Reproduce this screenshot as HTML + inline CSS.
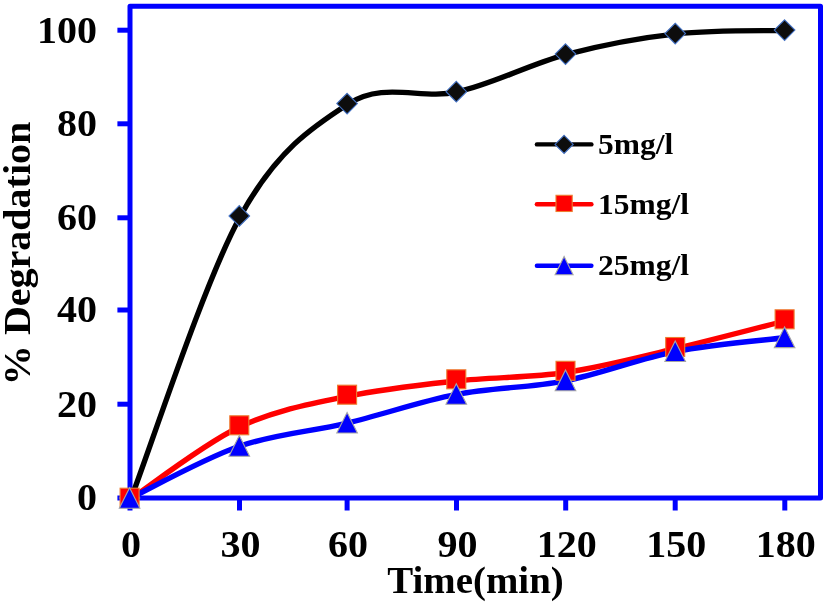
<!DOCTYPE html>
<html><head><meta charset="utf-8"><style>
html,body{margin:0;padding:0;background:#fff;width:826px;height:606px;overflow:hidden}
svg{display:block;will-change:transform}
.t{font-family:"Liberation Serif",serif;font-weight:bold;font-size:38.5px;fill:#000}
.l{font-family:"Liberation Serif",serif;font-weight:bold;font-size:30px;fill:#000}
</style></head><body>
<svg width="826" height="606" viewBox="0 0 826 606">
<rect x="130" y="6.3" width="690.5" height="491.7" fill="none" stroke="#0000ff" stroke-width="5.0" stroke-linejoin="round"/>
<line x1="117.4" y1="30.2" x2="130" y2="30.2" stroke="#0000ff" stroke-width="5.0"/>
<text transform="translate(97,42.5) scale(1.04,1)" text-anchor="end" class="t">100</text>
<line x1="117.4" y1="123.8" x2="130" y2="123.8" stroke="#0000ff" stroke-width="5.0"/>
<text transform="translate(97,136.1) scale(1.04,1)" text-anchor="end" class="t">80</text>
<line x1="117.4" y1="217.8" x2="130" y2="217.8" stroke="#0000ff" stroke-width="5.0"/>
<text transform="translate(97,230.10000000000002) scale(1.04,1)" text-anchor="end" class="t">60</text>
<line x1="117.4" y1="310" x2="130" y2="310" stroke="#0000ff" stroke-width="5.0"/>
<text transform="translate(97,322.3) scale(1.04,1)" text-anchor="end" class="t">40</text>
<line x1="117.4" y1="404.2" x2="130" y2="404.2" stroke="#0000ff" stroke-width="5.0"/>
<text transform="translate(97,416.5) scale(1.04,1)" text-anchor="end" class="t">20</text>
<line x1="117.4" y1="498" x2="130" y2="498" stroke="#0000ff" stroke-width="5.0"/>
<text transform="translate(97,510.3) scale(1.04,1)" text-anchor="end" class="t">0</text>
<line x1="130" y1="498" x2="130" y2="510.5" stroke="#0000ff" stroke-width="5.0"/>
<text transform="translate(131,556.6) scale(1.04,1)" text-anchor="middle" class="t">0</text>
<line x1="239.5" y1="498" x2="239.5" y2="510.5" stroke="#0000ff" stroke-width="5.0"/>
<text transform="translate(240.5,556.6) scale(1.04,1)" text-anchor="middle" class="t">30</text>
<line x1="347.1" y1="498" x2="347.1" y2="510.5" stroke="#0000ff" stroke-width="5.0"/>
<text transform="translate(348.1,556.6) scale(1.04,1)" text-anchor="middle" class="t">60</text>
<line x1="456.5" y1="498" x2="456.5" y2="510.5" stroke="#0000ff" stroke-width="5.0"/>
<text transform="translate(457.5,556.6) scale(1.04,1)" text-anchor="middle" class="t">90</text>
<line x1="565.7" y1="498" x2="565.7" y2="510.5" stroke="#0000ff" stroke-width="5.0"/>
<text transform="translate(566.7,556.6) scale(1.04,1)" text-anchor="middle" class="t">120</text>
<line x1="675.2" y1="498" x2="675.2" y2="510.5" stroke="#0000ff" stroke-width="5.0"/>
<text transform="translate(676.2,556.6) scale(1.04,1)" text-anchor="middle" class="t">150</text>
<line x1="784.8" y1="498" x2="784.8" y2="510.5" stroke="#0000ff" stroke-width="5.0"/>
<text transform="translate(785.8,556.6) scale(1.04,1)" text-anchor="middle" class="t">180</text>
<path d="M131.10,498.30 C149.32,451.28 204.22,281.93 240.40,216.20 C276.58,150.47 312.03,127.11 348.20,103.90 C384.37,80.69 421.00,100.20 457.40,91.95 C493.80,83.70 530.12,64.08 566.60,54.40 C603.08,44.72 639.78,37.85 676.30,33.85 C712.82,29.85 767.47,30.98 785.70,30.40" fill="none" stroke="#000" stroke-width="5.4"/>
<path d="M130.00,499.40 C148.22,487.33 203.12,444.17 239.30,427.00 C275.48,409.83 310.93,404.07 347.10,396.40 C383.27,388.73 419.90,384.98 456.30,381.00 C492.70,377.02 529.02,377.88 565.50,372.50 C601.98,367.12 638.68,357.28 675.20,348.70 C711.72,340.12 766.37,325.62 784.60,321.00" fill="none" stroke="#ff0000" stroke-width="5.4"/>
<path d="M130.00,498.40 C148.22,489.72 203.12,458.85 239.30,446.30 C275.48,433.75 310.93,431.75 347.10,423.10 C383.27,414.45 419.90,401.45 456.30,394.40 C492.70,387.35 529.02,387.93 565.50,380.80 C601.98,373.67 638.68,358.77 675.20,351.60 C711.72,344.42 766.37,340.06 784.60,337.75" fill="none" stroke="#0000ff" stroke-width="5.4"/>
<path d="M129.60,487.70 L139.90,498.00 L129.60,508.30 L119.30,498.00 Z" fill="#0d0d0d" stroke="#4472c4" stroke-width="1.1"/>
<path d="M239.30,205.60 L249.60,215.90 L239.30,226.20 L229.00,215.90 Z" fill="#0d0d0d" stroke="#4472c4" stroke-width="1.1"/>
<path d="M347.10,93.30 L357.40,103.60 L347.10,113.90 L336.80,103.60 Z" fill="#0d0d0d" stroke="#4472c4" stroke-width="1.1"/>
<path d="M456.30,81.35 L466.60,91.65 L456.30,101.95 L446.00,91.65 Z" fill="#0d0d0d" stroke="#4472c4" stroke-width="1.1"/>
<path d="M565.50,43.80 L575.80,54.10 L565.50,64.40 L555.20,54.10 Z" fill="#0d0d0d" stroke="#4472c4" stroke-width="1.1"/>
<path d="M675.20,23.25 L685.50,33.55 L675.20,43.85 L664.90,33.55 Z" fill="#0d0d0d" stroke="#4472c4" stroke-width="1.1"/>
<path d="M784.60,19.80 L794.90,30.10 L784.60,40.40 L774.30,30.10 Z" fill="#0d0d0d" stroke="#4472c4" stroke-width="1.1"/>
<rect x="120.10" y="488.20" width="19.00" height="19.00" fill="#ff0000" stroke="#ed7d31" stroke-width="1.1"/>
<rect x="229.80" y="415.80" width="19.00" height="19.00" fill="#ff0000" stroke="#ed7d31" stroke-width="1.1"/>
<rect x="337.60" y="385.20" width="19.00" height="19.00" fill="#ff0000" stroke="#ed7d31" stroke-width="1.1"/>
<rect x="446.80" y="369.80" width="19.00" height="19.00" fill="#ff0000" stroke="#ed7d31" stroke-width="1.1"/>
<rect x="556.00" y="361.30" width="19.00" height="19.00" fill="#ff0000" stroke="#ed7d31" stroke-width="1.1"/>
<rect x="665.70" y="337.50" width="19.00" height="19.00" fill="#ff0000" stroke="#ed7d31" stroke-width="1.1"/>
<rect x="775.10" y="309.80" width="19.00" height="19.00" fill="#ff0000" stroke="#ed7d31" stroke-width="1.1"/>
<path d="M129.60,487.70 L139.90,508.30 L119.30,508.30 Z" fill="#0000ff" stroke="#a5a5a5" stroke-width="1.1"/>
<path d="M239.30,435.60 L249.60,456.20 L229.00,456.20 Z" fill="#0000ff" stroke="#a5a5a5" stroke-width="1.1"/>
<path d="M347.10,412.40 L357.40,433.00 L336.80,433.00 Z" fill="#0000ff" stroke="#a5a5a5" stroke-width="1.1"/>
<path d="M456.30,383.70 L466.60,404.30 L446.00,404.30 Z" fill="#0000ff" stroke="#a5a5a5" stroke-width="1.1"/>
<path d="M565.50,370.10 L575.80,390.70 L555.20,390.70 Z" fill="#0000ff" stroke="#a5a5a5" stroke-width="1.1"/>
<path d="M675.20,340.90 L685.50,361.50 L664.90,361.50 Z" fill="#0000ff" stroke="#a5a5a5" stroke-width="1.1"/>
<path d="M784.60,327.05 L794.90,347.65 L774.30,347.65 Z" fill="#0000ff" stroke="#a5a5a5" stroke-width="1.1"/>
<line x1="536.9" y1="144.4" x2="591.4" y2="144.4" stroke="#000" stroke-width="4.4" stroke-linecap="round"/>
<path d="M564.10,135.30 L573.20,144.40 L564.10,153.50 L555.00,144.40 Z" fill="#0d0d0d" stroke="#4472c4" stroke-width="1.1"/>
<text transform="translate(598,153.6) scale(1.05,1)" class="l">5mg/l</text>
<line x1="536.9" y1="204.2" x2="591.4" y2="204.2" stroke="#ff0000" stroke-width="4.4" stroke-linecap="round"/>
<rect x="556.00" y="195.30" width="16.20" height="16.20" fill="#ff0000" stroke="#ed7d31" stroke-width="1.1"/>
<text transform="translate(598,213.9) scale(1.05,1)" class="l">15mg/l</text>
<line x1="536.9" y1="265.7" x2="591.4" y2="265.7" stroke="#0000ff" stroke-width="4.4" stroke-linecap="round"/>
<path d="M564.10,256.60 L573.10,274.80 L555.10,274.80 Z" fill="#0000ff" stroke="#a5a5a5" stroke-width="1.1"/>
<text transform="translate(598,274.9) scale(1.05,1)" class="l">25mg/l</text>
<text transform="translate(475.5,593.4) scale(1.01,1)" text-anchor="middle" class="t">Time(min)</text>
<text transform="translate(30.4,253.4) rotate(-90) scale(1.04,1)" text-anchor="middle" class="t">% Degradation</text>
</svg>
</body></html>
